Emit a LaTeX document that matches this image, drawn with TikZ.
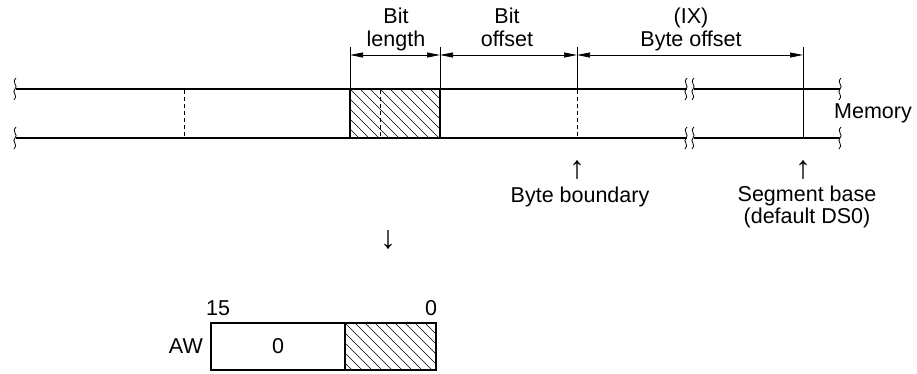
\documentclass[tikz,border=0pt]{standalone}
\usepackage{fontspec}
\setmainfont{Liberation Sans}
\usetikzlibrary{arrows.meta}
\tikzset{
  mem/.style={line width=2.6pt},
  thin/.style={line width=0.8pt},
  dim/.style={line width=0.7pt,{Triangle[length=13pt,width=5pt]}-{Triangle[length=13pt,width=5pt]}},
  dsh/.style={line width=0.9pt,dash pattern=on 4pt off 3pt},
  squig/.style={line width=0.8pt},
  lbl/.style={inner sep=0pt,font=\fontsize{21.5}{23}\selectfont,align=center},
  arr/.style={inner sep=0pt,font=\fontsize{32}{32}\selectfont,text height=16pt,text depth=0pt,anchor=base},
  hatch/.style={line width=0.6pt},
}
\newcommand{\squiggle}[2]{%
  \draw[squig] (#1+1,#2-11) .. controls (#1-4,#2-6) and (#1+4,#2-3) .. (#1,#2)
    .. controls (#1-4,#2+3) and (#1+4,#2+7) .. (#1-1,#2+11);}
\begin{document}
\begin{tikzpicture}[x=1pt,y=-1pt]
\useasboundingbox (0,0) rectangle (917,373);
% coordinates of memory strip
\coordinate (tl) at (16,89);  \coordinate (bl) at (16,138);
\coordinate (tb1) at (687,89); \coordinate (bb1) at (687,138);
\coordinate (tb2) at (694,89); \coordinate (bb2) at (694,138);
\coordinate (tr) at (840,89); \coordinate (br) at (840,138);
% hatched field
\begin{scope}
  \clip (350,89) rectangle (440,138);
  \foreach \x in {300,310,...,440} \draw[hatch] (\x,89) -- (\x+49,138);
\end{scope}
\draw[dsh] (380,90) -- (380,137);
\draw[line width=1.8pt] (350,89) rectangle (440,138);
% memory lines
\draw[mem] (tl) -- (tb1); \draw[mem] (tb2) -- (tr);
\draw[mem] (bl) -- (bb1); \draw[mem] (bb2) -- (br);
\squiggle{15}{89} \squiggle{15}{138}
\squiggle{840}{89} \squiggle{840}{138}
\squiggle{686}{89} \squiggle{686}{138}
\squiggle{693}{89} \squiggle{693}{138}
% dashed verticals
\draw[dsh] (184,90) -- (184,137);
\draw[dsh] (577,90) -- (577,137);
% ticks
\coordinate (k1) at (350,47); \coordinate (k2) at (440,47);
\coordinate (k3) at (577,47); \coordinate (k4) at (803,47);
\draw[thin] (k1) -- (350,89);
\draw[thin] (k2) -- (440,89);
\draw[thin] (k3) -- (577,89);
\draw[thin] (k4) -- (803,138);
% dimension arrows
\coordinate (d1) at (350,55); \coordinate (d2) at (440,55);
\coordinate (d3) at (577,55); \coordinate (d4) at (803,55);
\draw[dim] (d1) -- (d2);
\draw[dim] (d2) -- (d3);
\draw[dim] (d3) -- (d4);
% labels
\node[lbl,anchor=base] (bl1) at (396,23) {Bit};
\node[lbl,anchor=base] (bl2) at (396,46) {length};
\node[lbl,anchor=base] (bo1) at (507,23) {Bit};
\node[lbl,anchor=base] (bo2) at (507,46) {offset};
\node[lbl,anchor=base] (by1) at (691,23) {(IX)};
\node[lbl,anchor=base] (by2) at (691,46) {Byte offset};
\node[lbl,anchor=base west] (mem) at (834,118) {Memory};
\node[arr] (ua1) at (577,178) {↑};
\node[lbl,anchor=base] (bb) at (580,202) {Byte boundary};
\node[arr] (ua2) at (803,178) {↑};
\node[lbl,anchor=base] (sb1) at (807,201) {Segment base};
\node[lbl,anchor=base] (sb2) at (807,223) {(default DS0)};
\node[arr] (da) at (388,248) {↓};
% AW register
\begin{scope}
  \clip (345,323) rectangle (436,370);
  \foreach \x in {295,305,...,440} \draw[hatch] (\x,323) -- (\x+47,370);
\end{scope}
\draw[line width=2pt] (211,323) rectangle (436,370);
\draw[line width=1.2pt] (345,323) -- (345,370);
\node[lbl,anchor=base] (n15) at (218,315) {15};
\node[lbl,anchor=base] (n0) at (431,315) {0};
\node[lbl] (zero) at (278,346) {0};
\node[lbl,anchor=east] (aw) at (203,346) {AW};
\end{tikzpicture}
\end{document}
